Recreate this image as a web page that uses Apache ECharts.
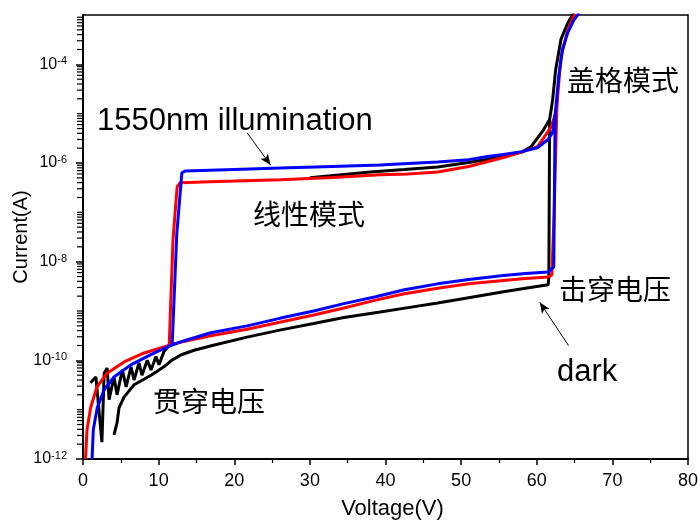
<!DOCTYPE html>
<html>
<head>
<meta charset="utf-8">
<script src="https://cdn.jsdelivr.net/npm/echarts@6/dist/echarts.min.js"></script>
<style>
  html, body { margin: 0; padding: 0; background: #fff; }
  #chart { width: 698px; height: 520px; }
</style>
</head>
<body>
<div id="chart"></div>
<script>
// tick labels
var xTicks = [0, 10, 20, 30, 40, 50, 60, 70, 80];
var yExps = [-12, -10, -8, -6, -4];

// dark curve (black): noisy start, lower branch + breakdown, upper branch
var darkNoise = [[1.0, 3.5e-11], [1.7, 4.6e-11], [2.5, 2.2e-12], [2.8, 5.5e-11], [3.2, 7e-11],
  [3.45, 1.6e-11], [4.1, 4.6e-11], [4.5, 2e-11], [5.2, 6.4e-11], [5.7, 2.9e-11], [6.35, 7.4e-11],
  [6.75, 4e-11], [7.4, 8.9e-11], [7.8, 5e-11], [8.5, 1e-10], [9.0, 6.4e-11], [9.65, 1.2e-10],
  [10.05, 8.1e-11], [10.7, 1.5e-10], [11.4, 2e-10], [11.8, 3e-10]];
var darkLow = [[4.1, 3.1e-12], [4.5, 5.4e-12], [4.77, 1.1e-11], [5.43, 1.8e-11], [6.75, 3.2e-11],
  [9.0, 5e-11], [10.7, 7.4e-11], [11.7, 1.0e-10], [13.0, 1.3e-10], [14.7, 1.6e-10], [17.1, 2.0e-10],
  [21.7, 2.95e-10], [26, 4.1e-10], [30.5, 5.6e-10], [34.5, 7.4e-10], [39.3, 9.5e-10], [43, 1.17e-9],
  [46.9, 1.45e-9], [51, 1.86e-9], [55.6, 2.45e-9], [58.5, 2.9e-9], [61.5, 3.4e-9], [61.6, 4.7e-9],
  [61.7, 7.6e-6], [62.1, 1.9e-5], [62.5, 7.8e-5], [63.2, 3.2e-4], [64.1, 6.9e-4], [64.9, 1.1e-3]];
var darkHigh = [[30, 5.0e-7], [38, 6.6e-7], [42.5, 7.4e-7], [46.9, 8.3e-7], [51, 1.02e-6],
  [55.6, 1.35e-6], [58, 1.66e-6], [59.2, 2.1e-6], [60.9, 4.7e-6], [61.7, 7.6e-6]];

// 1550nm illumination, red
var redLow = [[0.33, 1e-12], [0.36, 1.2e-12], [0.53, 3.9e-12], [1.02, 1.12e-11], [1.85, 2.9e-11],
  [3.18, 5.5e-11], [5.43, 9.3e-11], [8.08, 1.41e-10], [10.7, 1.86e-10], [11.4, 2.04e-10],
  [13, 2.34e-10], [16.9, 3.16e-10], [21.7, 4.27e-10], [26, 5.9e-10], [30.5, 8.3e-10], [34.5, 1.15e-9],
  [38.7, 1.66e-9], [42.5, 2.24e-9], [46.9, 2.88e-9], [51, 3.55e-9], [55.6, 4.17e-9], [58.5, 4.57e-9],
  [61.5, 4.9e-9], [62.0, 5.4e-9], [62.3, 1e-7], [62.65, 1.2e-5], [62.8, 2.6e-5], [63.2, 1.4e-4],
  [64.1, 5e-4], [64.8, 8.9e-4], [65.1, 1.05e-3]];
var redHigh = [[11.4, 2.04e-10], [11.9, 2.75e-8], [12.45, 3.3e-7], [12.85, 4.0e-7], [20, 4.3e-7],
  [26.1, 4.6e-7], [33, 5.1e-7], [39.3, 5.75e-7], [43, 6.0e-7], [46.9, 6.6e-7], [51, 8.5e-7],
  [55.6, 1.29e-6], [58, 1.66e-6], [60.1, 2.14e-6], [60.9, 3.2e-6], [61.9, 5.4e-6], [62.65, 1.2e-5]];

// 1550nm illumination, blue
var blueLow = [[1.2, 1e-12], [1.23, 1.3e-12], [1.36, 3.9e-12], [1.89, 1.1e-11], [2.78, 2.5e-11],
  [4.1, 4.6e-11], [6.32, 8.1e-11], [8.97, 1.3e-10], [11.6, 2.0e-10], [13.4, 2.5e-10], [16.9, 3.63e-10],
  [21.7, 5.0e-10], [26, 7.1e-10], [30.5, 1.0e-9], [34.5, 1.41e-9], [38.7, 1.95e-9], [42.5, 2.69e-9],
  [46.9, 3.55e-9], [51, 4.37e-9], [55.6, 5.25e-9], [58.5, 5.75e-9], [61.5, 6.17e-9], [62.25, 7.8e-9],
  [62.4, 3e-6], [62.5, 1.2e-5], [62.9, 5.6e-5], [63.4, 2e-4], [64.1, 4.4e-4], [64.9, 7.9e-4],
  [65.6, 1.1e-3]];
var blueHigh = [[11.8, 2.2e-10], [12.4, 3.6e-8], [13.07, 6.3e-7], [13.5, 6.9e-7], [20, 7.4e-7],
  [26.1, 7.9e-7], [33, 8.5e-7], [39.3, 9.1e-7], [43, 9.8e-7], [46.9, 1.05e-6], [51, 1.17e-6],
  [53.5, 1.35e-6], [55.6, 1.48e-6], [58, 1.7e-6], [60.1, 2.04e-6], [61.5, 3.0e-6], [62.1, 4.1e-6],
  [62.5, 1.2e-5]];

var font = "'Liberation Sans', Arial, 'Noto Sans CJK SC', sans-serif";
var cjk = "'Noto Sans CJK SC', sans-serif";

// log minor ticks: 2..9 in each decade, plus the unlabeled decades
var minorVals = [];
for (var k = -12; k < -3; k++) {
  for (var m = 1; m <= 9; m++) {
    if (m === 1 && k % 2 === 0) continue;
    minorVals.push([0, m * Math.pow(10, k)]);
  }
}

function line(data, color, extra) {
  var s = {
    type: 'line',
    data: data,
    showSymbol: false,
    symbol: 'none',
    silent: true,
    lineStyle: { color: color, width: 3 },
    itemStyle: { color: color },
    z: 3
  };
  return Object.assign(s, extra || {});
}

function arrowMark(from, to) {
  return {
    silent: true,
    symbol: ['none', 'arrow'],
    symbolSize: [7, 11],
    label: { show: false },
    lineStyle: { color: '#000', width: 1, type: 'solid' },
    data: [[{ coord: from }, { coord: to }]]
  };
}

var myChart = echarts.init(document.getElementById('chart'));

var option = {
  animation: false,
  textStyle: { fontFamily: font },
  grid: {
    left: 83, right: 10, top: 15, bottom: 61,
    outerBoundsMode: 'none',
    show: true, borderColor: '#000', borderWidth: 1.5
  },
  xAxis: {
    type: 'value',
    min: 0,
    max: 80,
    interval: 10,
    name: 'Voltage(V)',
    nameLocation: 'middle',
    nameGap: 39,
    nameMoveOverlap: false,
    nameTextStyle: { fontSize: 22, color: '#000', fontFamily: font, padding: [0, 0, 0, 14] },
    axisLine: { lineStyle: { color: '#000', width: 2 } },
    axisTick: { length: 6, lineStyle: { color: '#000', width: 1.5 } },
    minorTick: { show: true, splitNumber: 2, length: 4, lineStyle: { color: '#000', width: 1.2 } },
    axisLabel: { fontSize: 18, color: '#000', margin: 13, fontFamily: font, customValues: xTicks },
    splitLine: { show: false }
  },
  yAxis: {
    type: 'log',
    logBase: 10,
    min: 1e-12,
    max: 1e-3,
    interval: 2,
    name: 'Current(A)',
    nameLocation: 'middle',
    nameGap: 52,
    nameMoveOverlap: false,
    nameRotate: 90,
    nameTextStyle: { fontSize: 20, color: '#000', fontFamily: font },
    axisLine: { show: true, lineStyle: { color: '#000', width: 2 } },
    axisTick: { length: 7, lineStyle: { color: '#000', width: 1.5 } },
    axisLabel: {
      showMaxLabel: false,
      margin: 16,
      formatter: function (v) {
        var e = Math.round(Math.log10(v));
        if (yExps.indexOf(e) < 0) return '';
        return '{b|10}{s|' + e + '}';
      },
      rich: {
        b: { fontSize: 16, color: '#000', fontFamily: font },
        s: { fontSize: 11, color: '#000', fontFamily: font, verticalAlign: 'top', padding: [0, 0, 6, 0] }
      }
    },
    splitLine: { show: false }
  },
  series: [
    {
      // short outward minor ticks on the log axis
      type: 'custom',
      silent: true,
      clip: false,
      z: 5,
      data: minorVals,
      renderItem: function (params, api) {
        var p = api.coord([api.value(0), api.value(1)]);
        return {
          type: 'line',
          shape: { x1: p[0] - 6, y1: p[1], x2: p[0] - 1, y2: p[1] },
          style: { stroke: '#000', lineWidth: 1.2 }
        };
      }
    },
    line(darkNoise, '#000'),
    line(darkLow, '#000', { markLine: arrowMark([64.2, 2e-10], [60.4, 1.5e-9]) }),
    line(darkHigh, '#000'),
    line(redLow, '#ff0000'),
    line(redHigh, '#ff0000'),
    line(blueLow, '#0000ff'),
    line(blueHigh, '#0000ff', { markLine: arrowMark([21.7, 4.1e-6], [24.8, 9.1e-7]) })
  ],
  graphic: [
    { type: 'text', left: 97, top: 106, style: { text: '1550nm illumination', font: '31px ' + font, fill: '#000' } },
    { type: 'text', left: 567, top: 66, style: { text: '盖格模式', font: '28px ' + cjk, fill: '#000' } },
    { type: 'text', left: 253, top: 200, style: { text: '线性模式', font: '28px ' + cjk, fill: '#000' } },
    { type: 'text', left: 559, top: 275, style: { text: '击穿电压', font: '28px ' + cjk, fill: '#000' } },
    { type: 'text', left: 557, top: 357, style: { text: 'dark', font: '31px ' + font, fill: '#000' } },
    { type: 'text', left: 153, top: 387, style: { text: '贯穿电压', font: '28px ' + cjk, fill: '#000' } }
  ]
};

myChart.setOption(option);
</script>
</body>
</html>
